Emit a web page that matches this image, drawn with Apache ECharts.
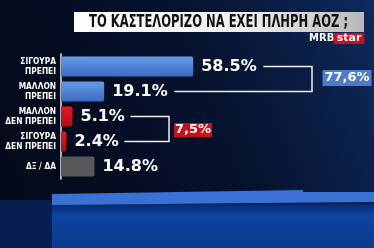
<!DOCTYPE html>
<html><head><meta charset="utf-8">
<script src="https://cdn.jsdelivr.net/npm/echarts@6/dist/echarts.min.js"></script>
<style>html,body{margin:0;padding:0;background:#030a1c;overflow:hidden}#c{width:374px;height:248px}</style>
</head><body><div id="c"></div>
<script>
// ---- data ----
const title = 'ΤΟ ΚΑΣΤΕΛΟΡΙΖΟ ΝΑ ΕΧΕΙ ΠΛΗΡΗ ΑΟΖ ;';
const categories = ['ΣΙΓΟΥΡΑ\nΠΡΕΠΕΙ', 'ΜΑΛΛΟΝ\nΠΡΕΠΕΙ', 'ΜΑΛΛΟΝ\nΔΕΝ ΠΡΕΠΕΙ', 'ΣΙΓΟΥΡΑ\nΔΕΝ ΠΡΕΠΕΙ', 'ΔΞ / ΔΑ'];
const values = [58.5, 19.1, 5.1, 2.4, 14.8];
const barKinds = ['yes', 'yes', 'no', 'no', 'dk'];
const yesGroup = [0, 1];
const noGroup = [2, 3];

// ---- styles ----
const kindColors = {
  yes: new echarts.graphic.LinearGradient(0, 0, 0, 1, [{offset: 0, color: '#6a9be8'}, {offset: 1, color: '#3b6bc2'}]),
  no: new echarts.graphic.LinearGradient(0, 0, 0, 1, [{offset: 0, color: '#e01a22'}, {offset: 1, color: '#b00c14'}]),
  dk: '#585858'
};
const valFont = 'bold 16px "DejaVu Sans"';
const boxFont = 'bold 13px "DejaVu Sans"';
const titleFont = 'bold 18px "DejaVu Sans Condensed"';

const chart = echarts.init(document.getElementById('c'), null, {renderer: 'canvas'});
const option = {
  animation: false,
  backgroundColor: 'transparent',
  grid: {left: 61, top: 54, width: 226, height: 125, containLabel: false},
  xAxis: {type: 'value', min: 0, max: 100, show: false},
  yAxis: {
    type: 'category', data: categories, inverse: true,
    axisLine: {show: true, lineStyle: {color: '#e8e8e8', width: 1.5}},
    axisTick: {show: false},
    axisLabel: {
      color: '#ffffff', fontFamily: 'DejaVu Sans Condensed', fontWeight: 'bold',
      fontSize: 8.3, lineHeight: 10, margin: 5, align: 'right'
    },
    splitLine: {show: false}
  },
  series: [{
    type: 'bar',
    barWidth: 20,
    data: values.map((v, i) => ({
      value: v,
      itemStyle: {color: kindColors[barKinds[i]], borderRadius: [0, 2, 2, 0]}
    })),
    label: {
      show: true, position: 'right', distance: 8,
      color: '#ffffff', fontFamily: 'DejaVu Sans', fontWeight: 'bold', fontSize: 16,
      formatter: p => p.value.toFixed(1) + '%'
    }
  }]
};
chart.setOption(option);

// measure label widths
const ctx = document.createElement('canvas').getContext('2d');
ctx.font = valFont;
const labelEnd = i => {
  const p = chart.convertToPixel({seriesIndex: 0}, [values[i], i]);
  return [p[0] + 8 + ctx.measureText(values[i].toFixed(1) + '%').width, p[1]];
};
const sumLabel = g => (g.reduce((s, i) => s + values[i], 0)).toFixed(1).replace('.', ',') + '%';
ctx.font = titleFont;
const titleScale = 259 / ctx.measureText(title).width;

function bracket(group, vx, gap) {
  const a = labelEnd(group[0]), b = labelEnd(group[1]);
  return {
    type: 'polyline', z: 5,
    shape: {points: [[a[0] + gap, a[1]], [vx, a[1]], [vx, b[1]], [b[0] + gap, b[1]]]},
    style: {stroke: '#f0f0f0', lineWidth: 1.5, fill: null}
  };
}
const yA = labelEnd(yesGroup[0])[1], yB = labelEnd(yesGroup[1])[1];
const nA = labelEnd(noGroup[0])[1], nB = labelEnd(noGroup[1])[1];

const graphics = [
  // background
  {type: 'rect', z: -10, shape: {x: 0, y: 0, width: 374, height: 248},
    style: {fill: new echarts.graphic.LinearGradient(1, 0, 0, 0.6, [
      {offset: 0, color: '#0e2a5c'}, {offset: 0.45, color: '#06122e'}, {offset: 1, color: '#030919'}])}},
  {type: 'rect', z: -9, shape: {x: 0, y: 204, width: 374, height: 44},
    style: {fill: new echarts.graphic.LinearGradient(0, 0, 0, 1, [
      {offset: 0, color: '#082a6c'}, {offset: 0.25, color: '#0d44a2'}, {offset: 1, color: '#0a3a8c'}])}},
  {type: 'rect', z: -9, shape: {x: 0, y: 200, width: 52, height: 48},
    style: {fill: '#071f50'}},
  {type: 'polygon', z: -8, shape: {points: [[52, 194], [303, 190], [303, 192], [374, 192], [374, 202], [52, 205]]},
    style: {fill: '#3b70d4'}},
  // title
  {type: 'rect', z: 3, shape: {x: 74, y: 12, width: 290, height: 20},
    style: {fill: new echarts.graphic.LinearGradient(0, 0, 1, 1, [
      {offset: 0, color: '#ffffff'}, {offset: 0.6, color: '#eeeeee'}, {offset: 1, color: '#b8b8b8'}])}},
  {type: 'text', z: 4, x: 89, y: 22, scaleX: titleScale, originX: 0,
    style: {text: title, font: titleFont, fill: '#111111', align: 'left', verticalAlign: 'middle'}},
  // logo
  {type: 'text', z: 4, x: 309, y: 38.5,
    style: {text: 'MRB', font: 'bold 10px "DejaVu Sans"', fill: '#ffffff', align: 'left', verticalAlign: 'middle'}},
  {type: 'text', z: 4, x: 349, y: 38.5,
    style: {text: 'star', font: 'bold 11px "DejaVu Sans"', fill: '#ffffff', align: 'center', verticalAlign: 'middle',
      backgroundColor: '#c8101e', padding: [0, 3, 0, 3]}},
  // brackets
  bracket(yesGroup, 312, 6),
  bracket(noGroup, 169, 5),
  {type: 'text', z: 6, x: 347, y: (yA + yB) / 2 - 1,
    style: {text: sumLabel(yesGroup), font: boxFont, fill: '#ffffff', align: 'center', verticalAlign: 'middle',
      backgroundColor: '#4d7cca', padding: [2, 2, 1, 2]}},
  {type: 'text', z: 6, x: 193, y: (nA + nB) / 2 + 1,
    style: {text: sumLabel(noGroup), font: boxFont, fill: '#ffffff', align: 'center', verticalAlign: 'middle',
      backgroundColor: '#c8101a', padding: [1, 1, 0, 1]}}
];
chart.setOption({graphic: graphics});
</script>
</body></html>
